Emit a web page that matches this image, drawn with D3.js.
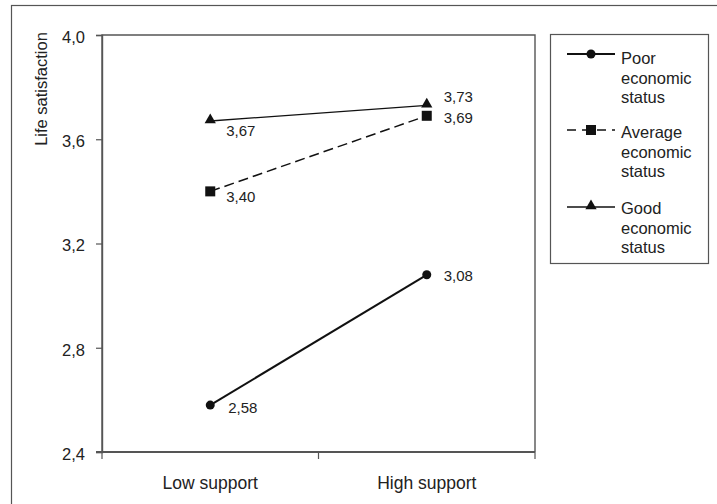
<!DOCTYPE html>
<html>
<head>
<meta charset="utf-8">
<script src="https://cdn.jsdelivr.net/npm/d3@7"></script>
<style>
body { margin: 0; background: #fff; }
text { font-family: "Liberation Sans", Arial, sans-serif; fill: #222; }
</style>
</head>
<body>
<div id="chart"></div>
<script>
var width = 717;
var height = 504;

var categories = ["Low support", "High support"];
var yTicks = [2.4, 2.8, 3.2, 3.6, 4.0];
var seriesNames = ["Poor economic status", "Average economic status", "Good economic status"];
var poorValues = [2.58, 3.08];
var averageValues = [3.40, 3.69];
var goodValues = [3.67, 3.73];

var margin = {left: 102, top: 35, right: 535, bottom: 452};

var svg = d3.select("#chart").append("svg")
    .attr("width", width)
    .attr("height", height);

// outer frame
svg.append("rect")
    .attr("x", 11.5).attr("y", 5.5)
    .attr("width", 720).attr("height", 520)
    .attr("fill", "none").attr("stroke", "#555").attr("stroke-width", 1.2);

var xScale = d3.scaleBand()
    .domain(categories)
    .range([margin.left, margin.right]);

var yScale = d3.scaleLinear()
    .domain([2.4, 4.0])
    .range([margin.bottom, margin.top]);

// plot frame
svg.append("path")
    .attr("d", "M" + margin.left + "," + margin.bottom + "V" + margin.top + "H" + margin.right + "V" + margin.bottom)
    .attr("fill", "none").attr("stroke", "#555").attr("stroke-width", 1.4);

var yAxis = svg.append("g")
    .attr("transform", "translate(" + margin.left + ",0)")
    .call(d3.axisLeft(yScale).tickValues(yTicks).tickSize(6).tickPadding(11)
        .tickFormat(d => d3.format(".1f")(d).replace(".", ",")));
yAxis.select(".domain").attr("stroke", "#555").attr("stroke-width", 1.4);
yAxis.selectAll(".tick line").attr("stroke", "#555").attr("stroke-width", 1.2);
yAxis.selectAll("text").attr("font-size", 16.5).attr("dy", "0.45em").style("fill", "#222");

var xAxis = svg.append("g")
    .attr("transform", "translate(0," + margin.bottom + ")")
    .call(d3.axisBottom(xScale).tickSize(0).tickPadding(0));
xAxis.select(".domain").remove();
xAxis.selectAll("text").attr("font-size", 17.5).attr("y", 37).attr("dy", 0).style("fill", "#222");

svg.append("line")
    .attr("x1", margin.left - 6).attr("x2", margin.right)
    .attr("y1", margin.bottom).attr("y2", margin.bottom)
    .attr("stroke", "#555").attr("stroke-width", 2.2);

// x ticks at band edges
var edges = [margin.left, margin.left + xScale.bandwidth(), margin.right];
svg.selectAll(".xedge")
    .data(edges)
    .enter().append("line")
    .attr("x1", d => d).attr("x2", d => d)
    .attr("y1", margin.bottom).attr("y2", margin.bottom + 7)
    .attr("stroke", "#555").attr("stroke-width", 1.2);

svg.append("text")
    .attr("transform", "translate(47,89) rotate(-90)")
    .attr("text-anchor", "middle")
    .attr("font-size", 16.5)
    .text("Life satisfaction");

var cx = d => xScale(d) + xScale.bandwidth() / 2;

var series = [
    {name: seriesNames[0], values: poorValues, dash: null, width: 2, marker: "circle",
        labelOff: [[18, 3], [17, 1]]},
    {name: seriesNames[1], values: averageValues, dash: "10,5", width: 1.5, marker: "square",
        labelOff: [[16, 5], [17, 1.5]]},
    {name: seriesNames[2], values: goodValues, dash: null, width: 1.3, marker: "triangle",
        labelOff: [[16, 10], [17, -9]]}
];

var line = d3.line()
    .x((d, i) => cx(categories[i]))
    .y(d => yScale(d));

function drawMarker(g, type, x, y) {
    if (type === "circle") {
        g.append("circle").attr("cx", x).attr("cy", y).attr("r", 4.5).attr("fill", "#111");
    } else if (type === "square") {
        g.append("rect").attr("x", x - 5).attr("y", y - 5).attr("width", 10).attr("height", 10).attr("fill", "#111");
    } else {
        g.append("path").attr("d", d3.symbol().type(d3.symbolTriangle).size(55)())
            .attr("transform", "translate(" + x + "," + (y - 1) + ")").attr("fill", "#111");
    }
}

series.forEach(function(s) {
    var g = svg.append("g");
    g.append("path")
        .attr("d", line(s.values))
        .attr("fill", "none")
        .attr("stroke", "#111")
        .attr("stroke-width", s.width)
        .attr("stroke-dasharray", s.dash);
    s.values.forEach(function(v, i) {
        drawMarker(g, s.marker, cx(categories[i]), yScale(v));
        g.append("text")
            .attr("x", cx(categories[i]) + s.labelOff[i][0])
            .attr("y", yScale(v) + s.labelOff[i][1])
            .attr("dy", "0.35em")
            .attr("font-size", 15)
            .text(d3.format(".2f")(v).replace(".", ","));
    });
});

// legend
var legend = svg.append("g");
legend.append("rect")
    .attr("x", 550.5).attr("y", 34.5).attr("width", 158).attr("height", 229)
    .attr("fill", "#fff").attr("stroke", "#555").attr("stroke-width", 1.2);

var legendMarkerY = [54, 130, 207];
var legendTextY = [64, 138, 214];
series.forEach(function(s, i) {
    var y = legendMarkerY[i];
    legend.append("line")
        .attr("x1", 567).attr("x2", 615).attr("y1", y).attr("y2", y)
        .attr("stroke", "#111").attr("stroke-width", s.width)
        .attr("stroke-dasharray", s.dash ? "9,6" : null);
    drawMarker(legend, s.marker, 591, y);
    var words = s.name.split(" ");
    words.forEach(function(t, j) {
        legend.append("text")
            .attr("x", 621).attr("y", legendTextY[i] + j * 19.5)
            .attr("font-size", 16.5)
            .text(t);
    });
});
</script>
</body>
</html>
